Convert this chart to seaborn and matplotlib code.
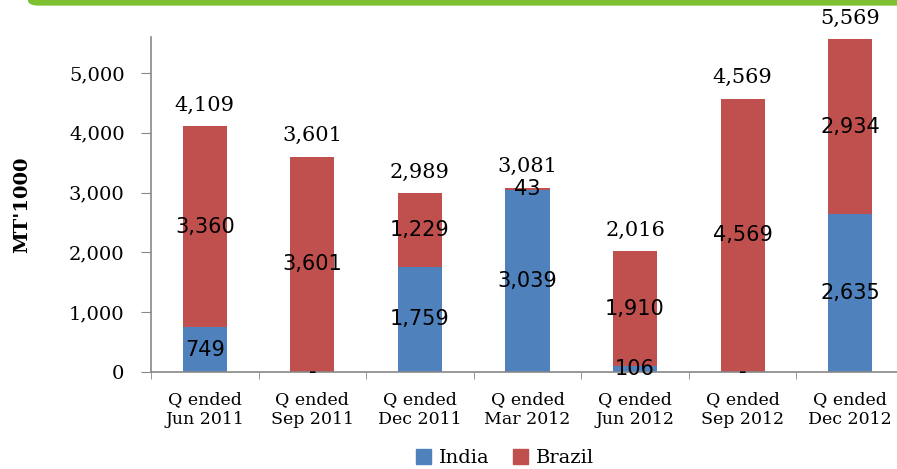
import numpy as np
import pandas as pd
import seaborn as sns
import matplotlib.pyplot as plt
from matplotlib.patches import FancyBboxPatch, Patch
from matplotlib.ticker import FuncFormatter

quarters = ["Q ended\nJun 2011", "Q ended\nSep 2011", "Q ended\nDec 2011", "Q ended\nMar 2012",
            "Q ended\nJun 2012", "Q ended\nSep 2012", "Q ended\nDec 2012"]
india = [749, 0, 1759, 3039, 106, 0, 2635]
brazil = [3360, 3601, 1229, 43, 1910, 4569, 2934]
totals = [4109, 3601, 2989, 3081, 2016, 4569, 5569]

BLUE = "#4F81BD"
RED = "#C0504D"
SERIF = "DejaVu Serif"
SANS = "DejaVu Sans"

sns.set_style("white")
plt.rcParams["font.family"] = [SERIF]
plt.rcParams["text.color"] = "black"
plt.rcParams["xtick.color"] = "black"
plt.rcParams["ytick.color"] = "black"
plt.rcParams["axes.labelcolor"] = "black"

df = pd.DataFrame({"quarter": quarters, "India": india, "Brazil": brazil, "Total": totals})

fig = plt.figure(figsize=(8.97, 4.69), dpi=100)
ax = fig.add_axes([0.1683, 0.2068, 0.8395, 0.7143])

# stacked: total bar in red, India drawn over it
sns.barplot(data=df, x="quarter", y="Total", color=RED, width=0.41, saturation=1,
            linewidth=0, ax=ax)
sns.barplot(data=df, x="quarter", y="India", color=BLUE, width=0.41, saturation=1,
            linewidth=0, ax=ax)

ax.set_ylim(0, 5600)
ax.set_xlim(-0.5, len(quarters) - 0.5)
ax.set_yticks(range(0, 5001, 1000))
ax.yaxis.set_major_formatter(FuncFormatter(lambda v, p: f"{int(v):,}"))
ax.tick_params(axis="y", labelsize=14, length=7, color="#888888", direction="out", left=True, pad=12)
ax.tick_params(axis="x", which="major", length=0, labelsize=12.5, pad=14)
ax.set_xticks(np.arange(-0.5, len(quarters), 1.0), minor=True)
ax.tick_params(axis="x", which="minor", length=5, color="#888888", bottom=True)
ax.set_xlabel("")
ax.set_ylabel("MT'1000", fontsize=14, fontweight="bold")
ax.yaxis.set_label_coords(-0.159, 0.5)
for s in ["top", "right"]:
    ax.spines[s].set_visible(False)
for s in ["left", "bottom"]:
    ax.spines[s].set_color("#888888")
    ax.spines[s].set_linewidth(1.2)

for i in range(len(quarters)):
    lab = f"{india[i]:,}" if india[i] else "-"
    ax.text(i, india[i] / 2, lab, ha="center", va="center", fontsize=15, family=SANS)
    ax.text(i, india[i] + brazil[i] / 2, f"{brazil[i]:,}", ha="center", va="center",
            fontsize=15, family=SANS)
    ax.annotate(f"{totals[i]:,}", (i, totals[i]), xytext=(0, 15), textcoords="offset points",
                ha="center", va="center", fontsize=15, family=SERIF, annotation_clip=False)

handles = [Patch(color=BLUE, label="India"), Patch(color=RED, label="Brazil")]
fig.legend(handles=handles, loc="center", bbox_to_anchor=(0.563, 0.024), ncol=2, frameon=False,
           fontsize=14, handlelength=0.8, handleheight=0.8, handletextpad=0.4, columnspacing=1.2)

# green band at top
fig.patches.append(FancyBboxPatch((0.031, 0.988), 1.0, 0.03, boxstyle="round,pad=0,rounding_size=0.012",
                                  transform=fig.transFigure, facecolor="#7DC030", edgecolor="none"))

fig.savefig("out.png", dpi=100)
